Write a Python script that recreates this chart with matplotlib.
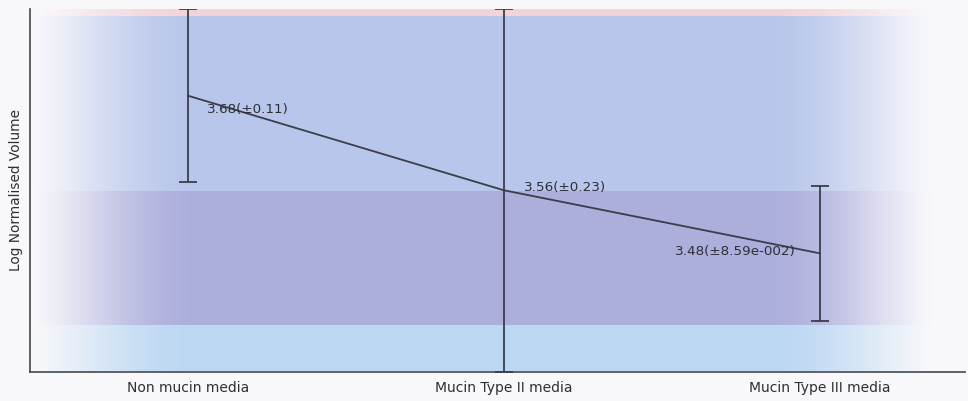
import numpy as np
import matplotlib
matplotlib.use("Agg")
import matplotlib.pyplot as plt
from matplotlib.colors import to_rgb

# Data
categories = ["Non mucin media", "Mucin Type II media", "Mucin Type III media"]
means = [3.68, 3.56, 3.48]
errors = [0.11, 0.23, 0.0859]
value_labels = ["3.68(±0.11)", "3.56(±0.23)", "3.48(±8.59e-002)"]

# Horizontal background bands (lower edge .. upper edge) and their tints
band_edges = [3.33, 3.388, 3.558, 3.78, 3.79]
band_colors = ["#bbd7f2", "#acaedc", "#b8c6eb", "#f3d3da"]

bg = "#f8f8fb"
ink = "#3a3e4a"
text_color = "#2e2e36"

fig = plt.figure(figsize=(9.68, 4.01), dpi=100, facecolor=bg)
ax = fig.add_axes([30 / 968, 29.5 / 401, 935 / 968, 362.5 / 401])
ax.set_facecolor(bg)

x = np.arange(len(categories))
xlim = (-0.5, 2.46)
ylim = (band_edges[0], band_edges[-1])

# Background: bands that fade out towards both ends of the plot
nx, ny = 1200, 900
xs = np.linspace(xlim[0], xlim[1], nx)
ys = np.linspace(ylim[0], ylim[1], ny)
left = np.clip((xs - xlim[0]) / 0.55, 0, 1)
right = np.clip((2.36 - xs) / 0.55, 0, 1)
fade = np.sin(left * np.pi / 2) ** 1.3 * np.sin(right * np.pi / 2) ** 1.3

band_idx = np.clip(np.searchsorted(band_edges, ys, side="right") - 1, 0, len(band_colors) - 1)
band_rgb = np.array([to_rgb(c) for c in band_colors])[band_idx]
bg_rgb = np.array(to_rgb(bg))
img = bg_rgb[None, None, :] * (1 - fade[None, :, None]) + band_rgb[:, None, :] * fade[None, :, None]
ax.imshow(img, extent=[xlim[0], xlim[1], ylim[0], ylim[1]], origin="lower",
          aspect="auto", interpolation="nearest", zorder=0)

ax.plot(x, means, color=ink, lw=1.3, zorder=3)
ax.errorbar(x, means, yerr=errors, fmt="none", ecolor=ink, elinewidth=1.3,
            capsize=6.5, capthick=1.3, zorder=3)

offsets = [((14, -10), "left"), ((14.5, 2), "left"), ((-17, 1.5), "right")]
for xi, m, lab, (off, ha) in zip(x, means, value_labels, offsets):
    ax.annotate(lab, (xi, m), xytext=off, textcoords="offset points",
                ha=ha, va="center", fontsize=9.7, color=text_color, zorder=4)

ax.set_xlim(*xlim)
ax.set_ylim(*ylim)
ax.set_xticks(x)
ax.set_xticklabels(categories, fontsize=10, color=text_color)
ax.set_yticks([])
ax.tick_params(axis="x", length=0, pad=6.5)
ax.set_ylabel("Log Normalised Volume", fontsize=9.8, color=text_color, labelpad=5)

for side in ("top", "right"):
    ax.spines[side].set_visible(False)
for side in ("left", "bottom"):
    ax.spines[side].set_color("#44464f")
    ax.spines[side].set_linewidth(1.2)

fig.savefig("out.png", dpi=100, facecolor=bg)
